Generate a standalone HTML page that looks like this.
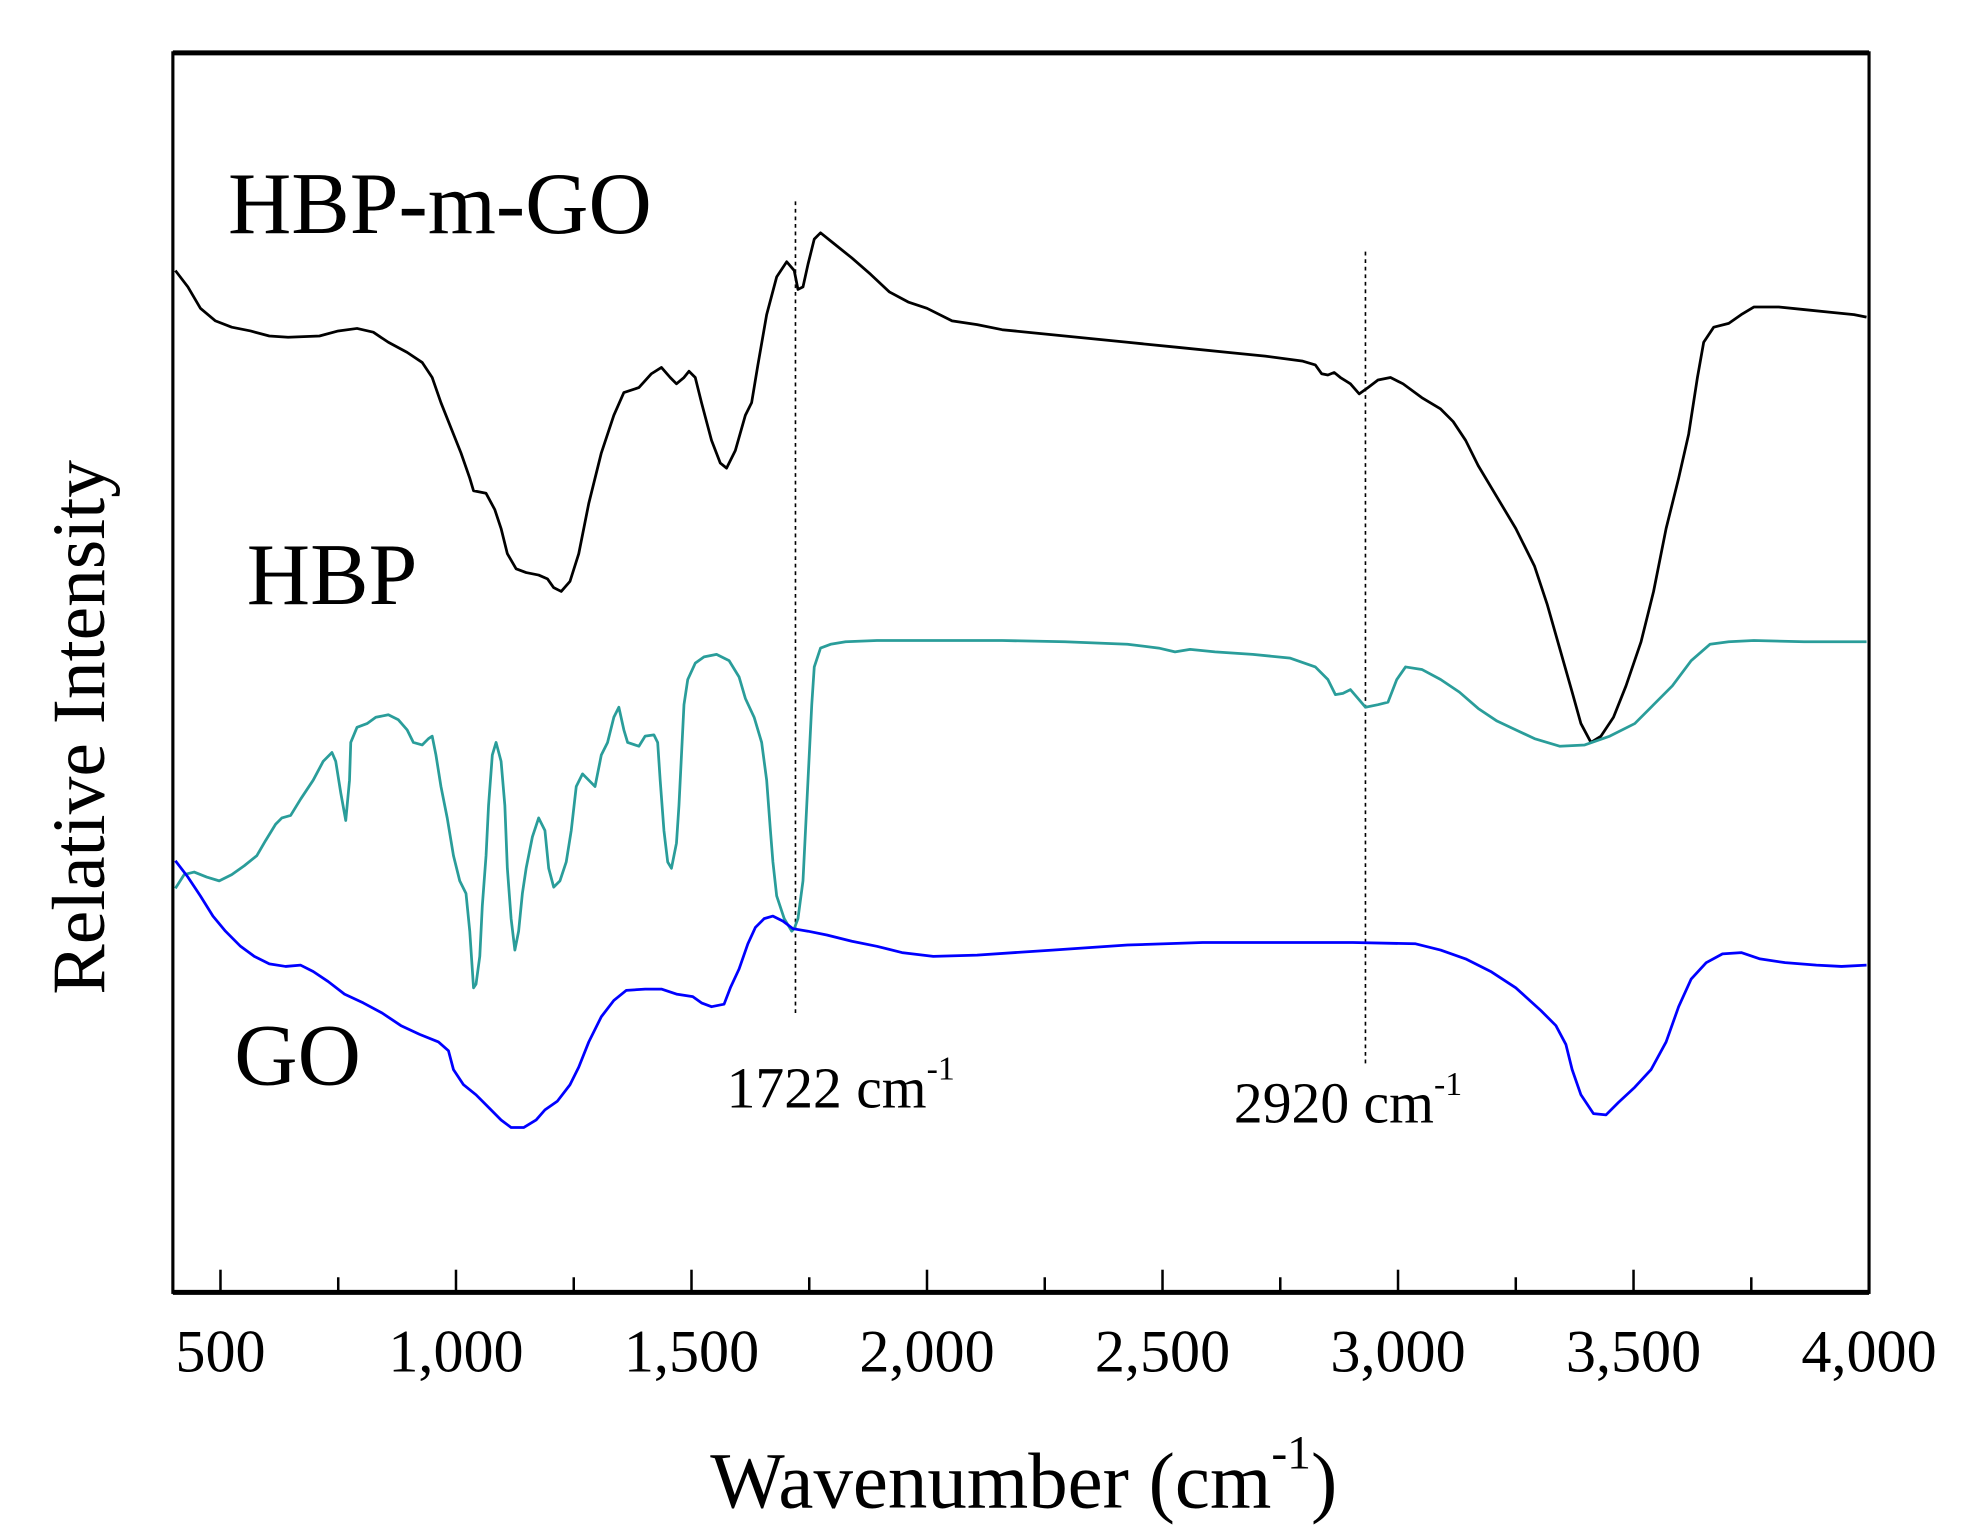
<!DOCTYPE html>
<html><head><meta charset="utf-8"><style>html,body{margin:0;padding:0;background:#fff}svg{display:block}</style></head>
<body>
<svg width="1963" height="1539" viewBox="0 0 1567 1223" preserveAspectRatio="none" xmlns="http://www.w3.org/2000/svg" font-family="'Liberation Serif', serif">
<rect width="1567" height="1223" fill="#fff"/>
<rect x="138" y="42" width="1354" height="985" fill="none" stroke="#000" stroke-width="2.5"/>
<line x1="138" y1="42" x2="1492" y2="42" stroke="#000" stroke-width="4"/>
<line x1="138" y1="1027" x2="1492" y2="1027" stroke="#000" stroke-width="4"/>
<g stroke="#000" stroke-width="2">
<line x1="176" y1="1027" x2="176" y2="1009"/><line x1="270" y1="1027" x2="270" y2="1015"/>
<line x1="364" y1="1027" x2="364" y2="1009"/><line x1="458" y1="1027" x2="458" y2="1015"/>
<line x1="552" y1="1027" x2="552" y2="1009"/><line x1="646" y1="1027" x2="646" y2="1015"/>
<line x1="740" y1="1027" x2="740" y2="1009"/><line x1="834" y1="1027" x2="834" y2="1015"/>
<line x1="928" y1="1027" x2="928" y2="1009"/><line x1="1022" y1="1027" x2="1022" y2="1015"/>
<line x1="1116" y1="1027" x2="1116" y2="1009"/><line x1="1210" y1="1027" x2="1210" y2="1015"/>
<line x1="1304" y1="1027" x2="1304" y2="1009"/><line x1="1398" y1="1027" x2="1398" y2="1015"/>
</g>
<g font-size="48" text-anchor="middle" fill="#000">
<text x="176" y="1090">500</text><text x="364" y="1090">1,000</text><text x="552" y="1090">1,500</text>
<text x="740" y="1090">2,000</text><text x="928" y="1090">2,500</text><text x="1116" y="1090">3,000</text>
<text x="1304" y="1090">3,500</text><text x="1492" y="1090">4,000</text>
</g>
<text x="567" y="1198" font-size="63">Wavenumber (cm<tspan font-size="38" dy="-31">-1</tspan><tspan dy="31">)</tspan></text>
<text transform="translate(83,578) rotate(-90)" font-size="60" text-anchor="middle">Relative Intensity</text>
<text x="182" y="185" font-size="70">HBP-m-GO</text>
<text x="197" y="480" font-size="70">HBP</text>
<text x="187" y="862" font-size="70">GO</text>
<text x="580" y="880" font-size="46">1722 cm<tspan font-size="27" dy="-22">-1</tspan></text>
<text x="985" y="892" font-size="46">2920 cm<tspan font-size="27" dy="-22">-1</tspan></text>
<line x1="635" y1="160" x2="635" y2="805" stroke="#000" stroke-width="1.3" stroke-dasharray="3,3"/>
<line x1="1090" y1="200" x2="1090" y2="845" stroke="#000" stroke-width="1.3" stroke-dasharray="3,3"/>
<g fill="none" stroke-width="2.2" stroke-linejoin="round">
<polyline stroke="#000" points="140,215 150,228 160,245 172,255 185,260 200,263 215,267 230,268 255,267 270,263 285,261 298,264 310,272 325,280 337,288 345,300 352,320 360,340 368,360 375,380 378,390 388,392 395,405 400,420 405,440 412,452 420,455 430,457 437,460 442,467 448,470 455,462 462,440 470,400 480,360 490,330 498,312 510,308 520,297 528,292 535,300 540,305 546,300 550,295 555,300 560,320 568,350 575,368 580,372 587,358 595,330 600,320 605,290 612,250 620,220 628,208 634,215 637,230 641,228 645,210 650,190 655,185 665,193 680,205 695,218 710,232 725,240 740,245 760,255 780,258 800,262 830,265 860,268 900,272 940,276 980,280 1010,283 1040,287 1050,290 1055,297 1060,298 1065,296 1070,300 1078,305 1085,313 1092,308 1100,302 1110,300 1120,305 1135,316 1150,325 1160,335 1170,350 1180,370 1195,395 1210,420 1225,450 1235,480 1245,515 1255,550 1262,575 1270,590 1278,585 1288,570 1298,545 1310,510 1320,470 1330,420 1340,380 1348,345 1355,300 1360,272 1368,260 1380,257 1390,250 1400,244 1420,244 1440,246 1460,248 1480,250 1490,252"/>
<polyline stroke="#2a9d9a" points="140,706 147,695 155,693 165,697 175,700 185,695 195,688 205,680 212,668 220,655 225,650 232,648 240,635 250,620 258,605 265,598 268,605 272,630 276,652 279,620 280,590 285,578 293,575 300,570 310,568 318,572 325,580 330,590 337,592 342,587 345,585 348,600 352,625 357,650 362,680 367,700 372,710 375,740 378,785 380,782 383,760 385,720 388,680 390,640 393,600 396,590 400,605 403,640 405,690 408,730 411,755 414,740 417,710 420,690 425,665 430,650 435,660 438,690 442,705 447,700 452,685 456,660 460,625 465,615 470,620 475,625 480,600 485,590 490,570 494,562 498,580 501,590 510,593 515,585 522,584 525,590 527,620 530,660 533,685 536,690 540,670 542,640 544,600 546,560 549,540 555,527 562,522 572,520 582,525 590,538 595,555 602,570 608,590 612,620 615,660 617,685 620,712 626,730 632,740 634,738 637,730 641,700 645,620 648,560 650,530 655,515 663,512 675,510 700,509 750,509 800,509 850,510 900,512 925,515 938,518 950,516 970,518 1000,520 1030,523 1050,530 1060,540 1066,552 1072,551 1078,548 1084,555 1090,562 1100,560 1108,558 1115,540 1122,530 1135,532 1150,540 1165,550 1180,563 1195,573 1210,580 1225,587 1245,593 1265,592 1285,585 1305,575 1320,560 1335,545 1350,525 1365,512 1380,510 1400,509 1440,510 1490,510"/>
<polyline stroke="#0000ff" points="140,684 150,697 160,712 170,728 180,740 192,752 203,760 215,766 228,768 240,767 250,772 262,780 275,790 290,797 305,805 320,815 335,822 350,828 358,835 362,850 370,862 380,870 390,880 400,890 408,896 418,896 428,890 435,882 445,875 455,862 462,848 470,828 480,808 490,795 500,787 515,786 528,786 540,790 553,792 560,797 568,800 578,798 583,785 590,770 597,750 603,737 610,730 617,728 625,732 633,738 645,740 660,743 680,748 700,752 720,757 745,760 780,759 840,755 900,751 960,749 1020,749 1080,749 1130,750 1150,755 1170,762 1190,772 1210,785 1230,803 1242,815 1250,830 1255,850 1262,870 1272,885 1282,886 1292,876 1305,864 1318,850 1330,828 1340,800 1350,778 1362,765 1375,758 1390,757 1405,762 1425,765 1450,767 1470,768 1490,767"/>
</g>
</svg>
</body></html>
